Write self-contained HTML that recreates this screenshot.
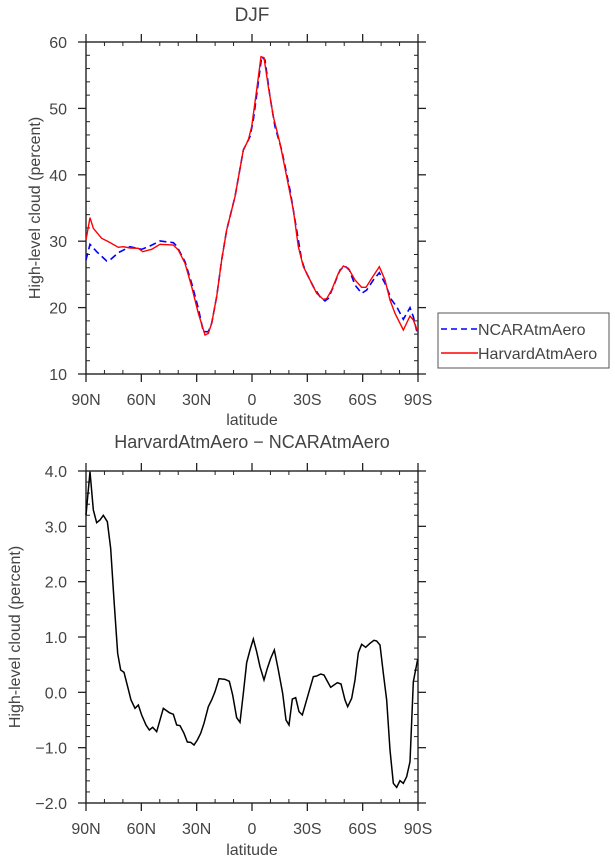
<!DOCTYPE html>
<html><head><meta charset="utf-8"><style>
html,body{margin:0;padding:0;background:#fff;}
svg{display:block;font-family:"Liberation Sans","DejaVu Sans",sans-serif;}
text{fill:#444;}
</style></head><body>
<svg id="s" width="615" height="862" viewBox="0 0 615 862" xmlns="http://www.w3.org/2000/svg">
<text x="252" y="21" font-size="19" text-anchor="middle">DJF</text>
<text x="252" y="448" font-size="18" text-anchor="middle">HarvardAtmAero − NCARAtmAero</text>
<text x="252" y="425" font-size="16" text-anchor="middle">latitude</text>
<text x="252" y="855" font-size="16" text-anchor="middle">latitude</text>
<text transform="translate(40,208) rotate(-90)" font-size="16" text-anchor="middle">High-level cloud (percent)</text>
<text transform="translate(20,637) rotate(-90)" font-size="16" text-anchor="middle">High-level cloud (percent)</text>
<g id="ax"></g>
<g transform="translate(60,30) scale(0.3333333)" fill="none">
<polyline vector-effect="non-scaling-stroke" stroke="#0000ff" stroke-width="1.6" stroke-dasharray="7,4" points="78,690 90,643 110,665 140,693 150,690 175,668 210,650 245,658 270,648 300,633 340,638 350,648 375,695 395,760 415,835 430,905 445,905 455,880 470,800 485,690 500,600 525,500 550,360 570,320 580,270 592,180 605,80 615,90 630,200 645,290 665,360 690,480 710,600 725,690 735,720 760,770 780,800 795,813 805,805 820,770 840,720 855,708 868,720 885,765 905,790 920,780 940,750 958,728 975,760 995,810 1010,830 1030,868 1050,833 1060,860 1073,915"/>
<polyline vector-effect="non-scaling-stroke" stroke="#ff0000" stroke-width="1.4" points="78,630 90,563 100,595 125,625 145,635 175,652 190,650 210,654 235,655 248,665 275,658 300,643 340,645 355,660 375,700 395,770 415,850 435,915 445,910 455,880 470,800 485,690 500,600 525,500 550,360 565,330 575,290 590,180 603,80 612,83 625,170 640,260 660,340 680,440 700,540 715,650 730,710 745,740 770,790 790,808 800,806 815,780 835,730 850,708 865,715 885,750 905,772 918,772 935,745 958,710 975,750 990,810 1005,850 1030,900 1050,858 1060,870 1073,905"/>
</g>
<g transform="translate(60,460) scale(0.3333333)" fill="none">
<polyline vector-effect="non-scaling-stroke" stroke="#000" stroke-width="1.5" points="78,165 90,35 100,150 110,188 120,180 130,166 142,185 152,265 162,420 173,580 182,630 192,637 203,680 213,720 225,745 235,735 245,765 258,795 268,810 278,802 290,815 310,745 328,758 340,763 350,795 360,797 372,820 382,846 392,847 402,855 412,840 422,820 432,790 445,740 455,720 465,695 477,656 495,658 508,664 518,705 530,773 540,787 550,700 560,608 570,570 580,537 590,575 600,620 612,660 622,625 632,595 643,570 655,630 668,700 678,780 687,795 697,717 707,713 717,755 727,765 737,730 747,695 760,650 770,648 782,642 792,645 800,660 812,682 822,675 832,668 843,672 855,720 863,740 875,715 885,660 895,578 905,553 917,562 930,550 942,541 950,543 960,555 970,640 980,720 990,870 1000,970 1010,982 1020,962 1030,970 1040,950 1050,905 1060,665 1073,598"/>
</g>
<rect x="438" y="313" width="171" height="55" fill="none" stroke="#555" stroke-width="1"/>
<line x1="441" y1="329" x2="478" y2="329" stroke="#0000ff" stroke-width="1.6" stroke-dasharray="6,4"/>
<line x1="441" y1="353" x2="478" y2="353" stroke="#ff0000" stroke-width="1.4"/>
<text x="478" y="335" font-size="16">NCARAtmAero</text>
<text x="478" y="359" font-size="16">HarvardAtmAero</text>
</svg>
<script>
var g=document.getElementById('ax'),ns='http://www.w3.org/2000/svg';
function L(x1,y1,x2,y2,w){var e=document.createElementNS(ns,'line');e.setAttribute('x1',x1);e.setAttribute('y1',y1);e.setAttribute('x2',x2);e.setAttribute('y2',y2);e.setAttribute('stroke','#222');e.setAttribute('stroke-width',w||1.3);g.appendChild(e);}
function T(x,y,s,a){var e=document.createElementNS(ns,'text');e.setAttribute('x',x);e.setAttribute('y',y);e.setAttribute('font-size','16');e.setAttribute('text-anchor',a);e.textContent=s;g.appendChild(e);}
function plot(top,bot,ylabs,nminor){
 var l=86,r=418;
 var e=document.createElementNS(ns,'rect');e.setAttribute('x',l);e.setAttribute('y',top);e.setAttribute('width',r-l);e.setAttribute('height',bot-top);e.setAttribute('fill','none');e.setAttribute('stroke','#222');e.setAttribute('stroke-width','1.4');g.appendChild(e);
 var xl=['90N','60N','30N','0','30S','60S','90S'];
 for(var i=0;i<=18;i++){var x=l+(r-l)*i/18;
  if(i%3==0){L(x,bot,x,bot+8);L(x,top-8,x,top);T(x,bot+31,xl[i/3],'middle');}
  else{L(x,bot-4,x,bot,1);L(x,top,x,top+4,1);}}
 var n=ylabs.length-1;
 for(var j=0;j<=n*nminor;j++){var y=bot-(bot-top)*j/(n*nminor);
  if(j%nminor==0){L(l-8,y,l,y);L(r,y,r+8,y);T(l-19,y+6,ylabs[j/nminor],'end');}
  else{L(l,y,l+4,y,1);L(r-4,y,r,y,1);}}
}
plot(42,374,['10','20','30','40','50','60'],5);
plot(471,803,['−2.0','−1.0','0.0','1.0','2.0','3.0','4.0'],5);
</script>
</body></html>
